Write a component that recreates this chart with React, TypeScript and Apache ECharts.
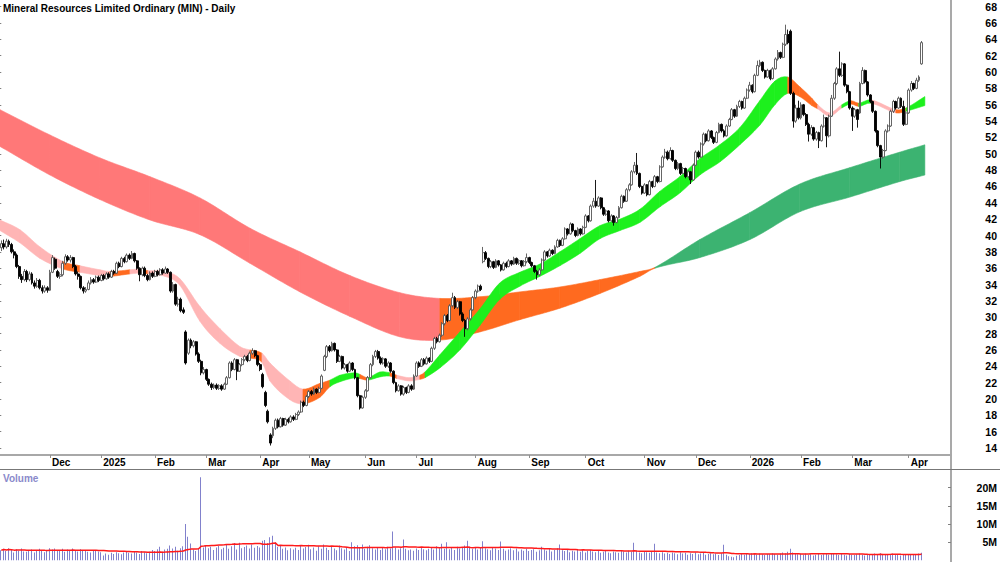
import React, { useEffect, useRef } from "react";
import * as echarts from "echarts";

// ---------- calendar (ASX trading days) ----------
const START_DATE = "2024-11-05";
const HOLIDAYS = [
  "2024-12-25", "2024-12-26", "2025-01-01", "2025-01-27", "2025-04-18", "2025-04-21",
  "2025-04-25", "2025-06-09", "2025-12-25", "2025-12-26", "2026-01-01", "2026-01-26",
  "2026-04-03", "2026-04-06",
];
const PAD_DAYS = 11; // empty space before the price axis
const MONTH_NAMES = ["Jan", "Feb", "Mar", "Apr", "May", "Jun", "Jul", "Aug", "Sep", "Oct", "Nov", "Dec"];

const TITLE = "Mineral Resources Limited Ordinary (MIN) - Daily";

// ---------- daily candles: [open, close, low, high] ----------
const candles: number[][] = [
  [38.5,39.0,38.1,39.4],[39.0,38.6,38.3,39.5],[38.6,39.3,38.4,39.6],[39.3,38.9,38.6,39.5],[38.9,38.0,37.8,39.1],
  [38.0,37.6,37.2,38.3],[37.6,36.2,36.0,37.8],[36.2,35.0,34.7,36.4],[35.0,34.6,34.2,35.3],[34.6,35.6,34.4,35.9],
  [35.6,34.6,34.3,35.8],[34.6,35.3,34.4,35.6],[35.3,34.2,34.0,35.5],[34.2,33.8,33.5,34.5],[33.8,34.5,33.6,34.8],
  [34.5,33.6,33.4,34.7],[33.6,33.2,32.9,33.9],[33.2,33.6,33.0,33.9],[33.6,33.3,33.0,33.8],[33.3,35.5,33.2,35.8],
  [35.5,37.3,35.4,37.6],[37.1,36.0,35.8,37.3],[35.6,35.0,34.8,35.8],[35.0,35.2,34.7,35.5],[35.2,36.6,35.0,36.9],
  [36.6,37.4,36.4,37.7],[37.4,37.0,36.8,37.6],[37.0,37.3,36.7,37.6],[37.3,36.2,36.0,37.4],[36.2,35.3,35.1,36.4],
  [35.3,35.0,34.6,35.6],[35.0,33.6,33.4,35.1],[33.6,33.2,32.9,33.8],[33.2,33.4,33.0,33.7],[33.4,34.2,33.3,34.5],
  [34.2,34.6,34.0,34.9],[34.6,34.3,34.1,34.8],[34.3,34.9,34.2,35.1],[34.9,34.5,34.3,35.1],[34.5,35.1,34.4,35.3],
  [35.1,34.7,34.5,35.3],[34.7,35.3,34.6,35.5],[35.3,34.9,34.7,35.5],[34.9,35.6,34.8,35.8],[35.6,35.4,35.2,35.8],
  [35.4,36.6,35.3,36.8],[36.6,36.2,36.0,36.8],[36.2,37.2,36.1,37.4],[37.2,36.8,36.6,37.4],[36.8,37.6,36.7,37.8],
  [37.6,37.2,37.0,37.8],[37.2,37.8,37.1,38.1],[37.8,36.9,36.7,37.9],[36.9,36.0,35.8,37.0],[36.0,35.2,34.4,36.1],
  [35.2,36.0,35.0,36.2],[36.0,35.1,34.9,36.2],[35.1,34.6,34.4,35.3],[34.6,35.4,34.5,35.6],[35.4,35.0,34.8,35.6],
  [35.0,35.6,34.9,35.8],[35.6,35.2,35.0,35.8],[35.2,35.8,35.1,36.0],[35.8,35.4,35.2,36.0],[35.4,35.9,35.3,36.2],
  [35.9,35.5,35.3,36.0],[35.5,33.2,33.0,35.6],[33.2,34.0,33.0,34.3],[34.0,31.6,31.4,34.1],[31.6,32.2,31.3,32.5],
  [32.2,30.8,30.6,32.4],[30.9,30.6,30.4,31.2],[28.2,24.4,24.2,28.4],[25.6,27.2,25.4,27.4],[27.2,26.5,26.2,27.4],
  [26.5,27.0,26.3,27.2],[27.0,25.5,25.3,27.1],[25.5,24.6,24.4,25.7],[24.6,23.2,22.9,24.8],[23.2,23.6,23.0,23.9],
  [23.6,22.4,22.2,23.7],[22.4,21.8,21.6,22.5],[21.8,21.4,21.1,22.0],[21.4,21.7,21.2,21.9],[21.7,21.3,21.1,21.9],
  [21.3,21.6,21.1,21.8],[21.6,21.2,21.0,21.8],[21.2,21.8,21.1,22.0],[21.8,22.6,21.7,22.8],[22.6,24.4,22.5,24.6],
  [24.4,23.6,23.4,24.6],[23.6,24.8,23.5,25.0],[24.8,23.4,22.3,24.9],[23.4,24.2,23.3,24.4],[24.2,24.8,24.0,25.0],
  [24.8,25.2,24.6,25.4],[25.2,24.7,24.5,25.4],[24.7,25.6,24.6,25.8],[25.6,25.9,25.4,26.2],[25.9,25.3,25.1,26.0],
  [25.3,24.2,24.0,25.4],[24.2,23.6,23.4,24.4],[23.0,21.5,21.3,23.2],[20.8,19.2,19.0,21.0],[18.5,17.2,17.0,18.7],
  [15.6,14.6,14.3,15.8],[15.5,16.4,15.2,16.6],[16.4,17.4,16.2,17.6],[17.4,16.6,16.4,17.6],[16.6,17.6,16.5,17.8],
  [17.6,16.8,16.6,17.7],[16.8,17.5,16.7,17.7],[17.5,17.2,17.0,17.7],[17.2,17.8,17.1,18.0],[17.8,17.5,17.3,18.0],
  [17.5,18.1,17.4,18.3],[18.1,18.4,17.9,18.6],[18.4,19.6,18.3,19.8],[19.6,19.2,19.0,19.8],[19.2,20.3,19.1,20.5],
  [20.3,20.9,20.1,21.1],[20.9,20.6,20.4,21.1],[20.6,21.2,20.5,21.4],[21.2,20.8,20.6,21.3],[20.8,21.3,20.7,21.5],
  [21.3,22.8,21.2,23.0],[23.5,25.2,23.4,25.4],[25.2,26.4,25.0,26.6],[26.4,25.9,25.7,26.6],[25.9,26.8,25.8,27.0],
  [26.8,26.0,25.8,26.9],[26.0,24.6,24.4,26.1],[24.6,25.2,24.5,25.4],[25.2,23.8,23.6,25.3],[23.8,24.2,23.6,24.4],
  [24.2,23.4,23.2,24.3],[23.4,24.4,23.3,24.6],[24.4,23.6,23.4,24.5],[23.6,22.6,22.4,23.7],[22.6,20.4,20.2,22.7],
  [20.4,18.9,18.7,20.5],[18.9,20.2,18.8,20.4],[20.2,21.0,20.0,21.2],[21.0,22.6,20.9,22.8],[22.6,24.2,22.5,24.4],
  [24.2,25.2,24.0,25.4],[25.2,25.8,25.0,26.0],[25.8,25.0,24.8,26.0],[25.0,24.4,24.2,25.2],[24.4,24.9,24.2,25.1],
  [24.9,24.0,23.8,25.0],[24.0,24.4,23.8,24.6],[24.4,23.4,23.2,24.5],[23.4,22.0,21.8,23.5],[22.0,21.0,20.8,22.1],
  [21.0,21.6,20.9,21.8],[21.6,20.6,20.4,21.7],[20.6,21.4,20.4,21.6],[21.4,20.8,20.6,21.5],[20.8,21.6,20.7,21.8],
  [21.6,21.2,21.0,21.8],[21.2,22.8,21.1,23.0],[22.8,24.4,22.7,24.6],[24.4,24.0,23.8,24.6],[24.0,24.8,23.9,25.0],
  [24.8,24.3,24.1,25.0],[24.3,25.0,24.2,25.2],[25.0,24.6,24.4,25.1],[24.6,26.2,24.5,26.4],[26.2,27.4,26.0,27.6],
  [27.4,27.0,26.8,27.6],[27.0,27.8,26.9,28.0],[27.8,29.2,27.6,29.4],[29.2,30.2,29.0,30.4],[30.2,29.6,29.4,30.4],
  [29.6,31.4,29.5,31.6],[31.4,32.4,31.2,33.0],[32.4,31.2,31.0,32.6],[31.2,31.9,31.0,32.1],[31.9,30.4,30.2,32.0],
  [30.4,29.6,29.4,30.6],[29.6,28.6,27.6,29.8],[28.6,29.8,28.4,30.0],[29.8,30.9,29.6,31.1],[30.9,32.4,30.8,32.6],
  [32.4,33.2,32.2,33.4],[33.2,33.8,33.0,34.0],[33.8,33.4,33.2,34.0],[36.8,37.9,36.6,38.6],[37.9,37.2,37.0,38.1],
  [37.2,36.2,36.0,37.3],[36.2,36.8,36.0,37.0],[36.8,36.1,35.9,36.9],[36.1,36.9,36.0,37.1],[36.9,36.4,36.2,37.0],
  [36.4,35.8,35.6,36.5],[35.8,36.6,35.7,36.8],[36.6,36.2,36.0,36.8],[36.2,36.9,36.1,37.1],[36.9,36.5,36.3,37.0],
  [36.5,37.2,36.4,37.4],[37.2,36.6,36.4,37.3],[36.6,36.9,36.4,37.1],[36.9,36.3,36.1,37.0],[36.3,36.8,36.2,37.0],
  [36.8,37.3,36.6,37.8],[37.3,36.7,36.5,37.4],[36.7,36.3,36.1,36.8],[36.3,35.6,35.4,36.4],[35.6,35.2,34.6,35.8],
  [35.2,35.8,35.0,36.0],[35.8,37.0,35.7,37.2],[37.0,38.0,36.9,38.2],[38.0,37.5,37.3,38.1],[37.5,38.2,37.4,38.4],
  [38.2,37.8,37.6,38.3],[37.8,38.6,37.7,38.8],[38.6,39.4,38.5,39.6],[39.4,38.8,38.6,39.5],[38.8,39.6,38.7,39.8],
  [39.6,40.8,39.5,41.0],[40.8,40.2,40.0,40.9],[40.2,41.4,40.1,41.6],[41.4,40.6,40.4,41.5],[40.6,40.0,39.8,40.7],
  [40.0,40.8,39.9,41.0],[40.8,40.2,40.0,40.9],[40.2,41.0,40.1,41.2],[41.0,42.4,40.9,42.6],[42.4,41.8,41.6,42.5],
  [41.8,43.6,41.7,43.8],[43.6,44.2,43.4,44.6],[44.2,43.6,43.4,46.8],[43.6,44.6,43.5,44.8],[44.6,43.4,43.2,44.7],
  [43.4,42.6,42.4,43.5],[42.6,43.0,42.4,43.2],[43.0,41.8,41.6,43.1],[41.8,42.4,41.7,42.6],[42.4,41.6,41.2,42.5],
  [41.6,42.2,41.5,42.4],[42.2,43.4,42.1,43.6],[43.4,44.8,43.3,45.0],[44.8,44.2,44.0,44.9],[44.2,45.6,44.1,45.8],
  [45.6,46.2,45.4,46.4],[46.2,47.8,46.1,48.0],[47.8,48.6,47.6,49.0],[48.6,47.6,47.4,50.1],[47.6,46.0,45.8,47.7],
  [46.0,45.2,45.0,46.1],[45.2,46.2,45.1,46.4],[46.2,45.0,44.8,46.3],[45.0,46.6,44.9,46.8],[46.6,46.0,45.8,46.7],
  [46.0,47.2,45.9,47.4],[47.2,46.6,46.4,47.3],[46.6,48.4,46.5,48.6],[48.4,49.6,48.3,49.8],[49.6,50.2,49.4,50.6],
  [50.2,49.4,49.2,50.4],[49.4,50.4,49.3,50.8],[50.4,49.2,49.0,50.5],[49.2,48.2,48.0,49.3],[48.2,48.8,48.0,49.0],
  [48.8,47.6,47.4,48.9],[47.6,48.2,47.5,48.4],[48.2,47.2,47.0,48.3],[47.2,47.8,47.0,48.0],[47.8,46.8,46.3,47.9],
  [46.8,48.6,46.7,48.8],[48.6,50.2,48.5,50.4],[50.2,49.6,49.4,50.4],[49.6,51.2,49.5,51.4],[51.2,52.4,51.0,52.6],
  [52.4,51.6,51.4,52.5],[51.6,52.8,51.5,53.0],[52.8,52.0,51.8,52.9],[52.0,51.4,51.2,52.1],[51.4,52.6,51.3,52.8],
  [52.6,53.6,52.5,53.8],[53.6,52.8,52.6,53.7],[52.8,52.2,52.0,53.0],[52.2,53.4,52.1,53.6],[53.4,54.2,53.3,54.4],
  [54.2,55.4,54.1,55.6],[55.4,54.6,54.4,55.5],[54.6,55.8,54.5,56.0],[55.8,56.4,55.6,56.6],[56.4,55.6,55.4,56.5],
  [55.6,56.8,55.5,57.0],[56.8,57.8,56.7,58.0],[57.8,58.4,57.6,58.8],[58.4,57.6,57.4,58.5],[57.6,59.6,57.5,59.8],
  [59.6,60.8,59.5,61.4],[60.8,61.2,60.6,61.5],[61.2,60.2,60.0,61.3],[60.2,59.4,59.2,60.3],[59.4,60.2,59.3,60.4],
  [60.2,59.2,59.0,60.3],[59.2,60.4,59.1,60.6],[60.4,61.6,60.3,61.8],[61.6,62.4,61.4,62.7],[62.4,61.8,61.6,62.5],
  [61.8,63.4,61.7,63.6],[63.4,64.6,63.2,65.8],[64.6,63.6,63.4,65.2],[65.0,57.4,57.2,65.2],[57.4,54.0,53.2,57.6],
  [54.0,55.6,53.8,56.0],[55.6,54.4,54.2,56.5],[54.4,56.0,54.2,56.3],[56.0,54.8,54.6,56.1],[54.8,53.6,53.4,55.0],
  [53.6,52.4,51.5,53.8],[52.4,53.2,52.2,53.5],[53.2,51.8,51.6,53.3],[51.8,52.6,51.6,52.8],[52.6,51.6,50.7,52.7],
  [51.6,53.4,51.5,53.6],[53.4,54.4,53.2,54.8],[54.4,52.2,50.8,54.5],[52.2,54.6,52.0,54.8],[54.6,56.8,54.5,57.2],
  [56.8,58.6,56.6,58.8],[58.6,60.4,58.4,60.6],[60.4,59.6,59.4,62.5],[59.6,61.0,59.4,61.2],[61.0,58.4,58.2,61.1],
  [58.4,57.6,57.4,58.5],[57.6,55.6,55.4,57.7],[55.6,54.6,52.8,55.8],[54.6,55.4,54.4,55.6],[55.4,54.2,53.2,55.5],
  [55.0,58.6,54.9,58.8],[58.6,60.2,58.5,60.6],[60.2,58.8,58.6,60.3],[58.8,57.2,57.0,58.9],[57.2,56.4,56.2,57.3],
  [56.4,55.2,55.0,56.5],[55.2,52.8,52.6,55.3],[52.8,51.0,50.8,52.9],[51.0,49.6,48.2,51.1],[49.6,50.4,49.4,50.6],
  [50.4,52.8,50.3,53.0],[52.8,53.4,52.6,53.6],[53.4,55.2,53.3,55.4],[55.2,56.4,55.0,56.6],[56.4,55.6,55.4,56.5],
  [55.6,56.8,55.5,57.0],[56.8,55.8,55.6,56.9],[55.8,53.6,53.4,56.5],[53.6,55.0,53.5,55.2],[55.0,57.8,54.9,58.0],
  [57.8,58.6,57.6,58.9],[58.6,58.0,57.8,58.7],[58.0,59.0,57.9,59.3],[59.0,59.4,58.8,59.6],[61.0,63.6,60.9,63.8],
];

// ---------- daily volume (millions) ----------
const volumes: number[] = [
  2.8,3.2,2.6,3.4,2.9,2.2,3.1,2.7,3.3,2.5,2.4,2.9,3.0,2.2,2.6,3.2,2.8,2.3,2.7,3.4,
  3.0,3.3,2.6,2.9,3.2,2.4,3.0,2.8,3.3,2.7,2.5,3.1,2.6,2.9,2.4,2.2,2.8,2.6,2.5,2.3,
  1.4,1.9,1.6,2.1,1.8,2.3,2.0,1.7,2.2,2.4,2.1,1.9,2.5,2.2,1.8,2.6,2.3,2.0,2.4,2.9,
  2.6,3.1,3.8,2.4,3.0,3.2,4.1,3.3,3.8,2.7,3.4,3.9,10.0,6.5,4.7,3.0,2.6,3.3,22.9,3.6,
  4.2,3.4,3.8,2.9,3.6,4.0,3.1,3.5,4.5,3.2,3.9,4.8,3.0,4.9,3.4,3.7,4.1,3.3,4.4,3.5,
  4.0,3.6,5.4,5.6,4.8,6.4,6.8,5.0,3.8,4.2,3.2,3.6,2.8,3.4,3.0,3.5,2.9,4.1,3.3,3.7,
  4.3,3.1,3.6,2.7,3.9,3.2,4.4,3.5,2.9,3.8,3.3,2.8,4.1,3.4,3.0,3.7,2.6,5.0,3.9,4.2,
  3.6,4.4,3.2,3.8,4.2,3.4,3.0,3.7,2.9,3.5,3.1,3.8,3.3,8.0,3.6,3.0,3.4,5.8,3.2,2.8,
  3.0,2.7,3.3,2.9,3.5,3.1,2.8,3.2,3.6,3.0,3.9,3.4,4.6,3.2,5.0,3.1,3.5,2.9,3.8,3.3,
  3.6,4.1,5.4,3.8,3.2,3.5,3.0,3.7,5.3,3.4,3.1,2.8,3.6,3.3,2.9,5.2,3.2,2.7,3.0,3.4,
  2.8,3.3,2.5,3.0,2.7,3.2,2.6,2.9,3.1,2.4,2.8,3.8,3.0,2.7,3.2,2.5,2.9,3.4,4.4,2.8,
  2.6,2.9,2.3,2.7,2.5,3.0,2.4,2.8,2.2,2.6,2.9,2.5,2.3,2.7,2.1,2.4,2.6,2.2,2.0,2.5,
  2.3,2.1,2.9,2.5,2.2,2.7,2.4,4.9,2.6,2.2,2.0,2.5,2.3,2.1,2.4,4.6,2.2,2.0,2.3,1.9,
  2.1,1.8,2.2,2.0,1.7,2.3,1.9,2.1,1.6,2.0,1.8,2.2,1.7,1.9,2.1,1.6,1.8,2.0,1.7,1.9,
  1.5,2.0,4.3,1.6,1.2,1.0,0.9,1.3,1.5,1.8,1.6,1.9,1.7,2.0,1.8,1.6,1.9,1.7,1.5,1.8,
  1.7,2.0,1.8,1.6,1.9,2.2,2.0,2.4,3.2,2.2,1.9,1.7,1.8,1.6,1.9,1.5,1.7,1.4,1.6,1.8,
  1.5,1.7,1.9,1.6,1.8,2.0,1.7,1.5,1.9,1.6,1.4,1.8,1.6,1.5,1.7,1.9,1.6,1.4,1.8,1.5,
  1.7,1.9,1.6,2.0,1.8,1.5,1.7,1.6,1.9,1.5,1.7,1.4,1.8,1.6,1.5,1.7,1.6,1.8,1.9,2.1,
];
const VOL_MA_DAYS = 30;

// ---------- slow (long-term) MA ribbon: keyframes by bar index ----------
// colour codes: 0 red, 1 orange, 2 dark green, 3 pink, 4 lime
const slowIdx = [-0.5, 19, 38.5, 58, 77.5, 97, 116.5, 136, 155.5, 171.1, 186.7, 202.3, 217.9, 233.5, 249.1, 255, 272.5, 292, 311.5, 331, 350.5, 360.3];
const slowLo = [50.9, 47.4, 44.4, 41.9, 40.1, 36.6, 33.1, 30.1, 27.6, 27.2, 28.2, 29.7, 31.1, 32.9, 35.0, 36.0, 37.3, 39.5, 42.9, 44.7, 46.6, 47.4];
const slowHi = [55.4, 52.3, 49.5, 47.2, 44.6, 40.9, 38.0, 35.1, 33.0, 32.3, 32.5, 33.1, 33.7, 34.6, 35.6, 36.1, 39.5, 42.8, 46.3, 48.3, 50.2, 51.1];
const slowCol = [0, 0, 0, 0, 0, 0, 0, 0, 0, 1, 1, 1, 1, 1, 1, 2, 2, 2, 2, 2, 2, 2];

// ---------- fast (short-term) MA ribbon ----------
const fastIdx = [-0.5, 7.3, 15.1, 24.1, 30.7, 38.5, 42.4, 50.2, 54.1, 57.2, 63.9, 69.7, 77.5, 85.3, 93.1, 97, 101.7, 104.8, 112.6, 117.7, 124.3, 128.2, 132.1, 138, 139.9, 143, 147.7, 151.6, 154.3, 159.4, 163.3, 165.3, 171.1, 178.9, 186.7, 194.5, 202.3, 210.1, 217.9, 225.7, 233.5, 241.3, 249.1, 256.9, 264.7, 272.5, 280.3, 288.1, 295.9, 301.8, 306.8, 311.5, 316.2, 318.5, 323.2, 327.9, 331.4, 334.5, 339.2, 349, 352.9, 360.3];
const fastLo = [40.6, 39.1, 37.2, 35.9, 35.5, 35.1, 35.0, 35.3, 35.4, 35.3, 35.0, 33.9, 29.5, 26.8, 25.2, 25.0, 24.5, 22.2, 19.9, 19.4, 20.2, 21.5, 22.1, 22.6, 22.5, 22.3, 22.7, 22.8, 22.5, 22.2, 22.4, 22.6, 23.8, 26.0, 29.0, 32.2, 33.8, 35.0, 36.3, 37.8, 39.6, 40.6, 41.6, 43.5, 45.2, 47.4, 49.0, 51.1, 53.5, 56.0, 57.4, 57.0, 55.9, 55.5, 54.6, 55.6, 56.1, 55.8, 56.2, 55.0, 55.2, 55.9];
const fastHi = [41.9, 40.7, 38.6, 36.8, 36.3, 35.8, 35.6, 35.8, 35.9, 35.7, 35.6, 34.7, 31.3, 28.6, 26.4, 26.0, 25.6, 24.4, 22.2, 21.2, 21.9, 22.3, 22.9, 23.2, 23.0, 22.6, 23.3, 23.2, 22.9, 22.6, 22.9, 23.3, 25.4, 28.2, 31.0, 34.2, 35.5, 36.5, 38.0, 39.6, 41.2, 42.0, 43.2, 45.4, 47.2, 49.4, 51.1, 53.2, 56.5, 58.9, 59.4, 58.2, 56.8, 56.0, 55.0, 56.0, 56.5, 56.2, 56.6, 55.4, 55.6, 57.0];
const fastCol = [3, 3, 3, 1, 3, 3, 1, 3, 1, 3, 3, 3, 3, 3, 3, 1, 3, 3, 3, 1, 1, 4, 4, 4, 1, 4, 4, 1, 3, 3, 1, 4, 4, 4, 4, 4, 4, 4, 4, 4, 4, 4, 4, 4, 4, 4, 4, 4, 4, 4, 1, 1, 1, 3, 3, 4, 1, 4, 3, 1, 4, 4];

const PALETTE = ["#ff7878", "#ff6a1f", "#3cb371", "#ffb5b5", "#1df01d"];

// ---------- axes ----------
const priceTicks = [14, 16, 18, 20, 22, 24, 26, 28, 30, 32, 34, 36, 38, 40, 42, 44, 46, 48, 50, 52, 54, 56, 58, 60, 62, 64, 66, 68];
const volTicks = [5, 10, 15, 20];
const PRICE_MIN = 13.14;
const PRICE_MAX = 68.82;
const VOL_MAX = 25.14;

const FONT = "'Liberation Sans', Arial, Helvetica, sans-serif";

function tradingDays(n: number): string[] {
  const out: string[] = [];
  const d = new Date(START_DATE + "T00:00:00Z");
  while (out.length < n) {
    const dow = d.getUTCDay();
    const s = d.toISOString().slice(0, 10);
    if (dow !== 0 && dow !== 6 && HOLIDAYS.indexOf(s) < 0) out.push(s);
    d.setUTCDate(d.getUTCDate() + 1);
  }
  return out;
}

// each item: previous, current, next and following keyframe (for a smooth edge) + colour
function bandItems(idx: number[], lo: number[], hi: number[], col: number[]) {
  const items: number[][] = [];
  const n = idx.length;
  for (let k = 0; k < n - 1; k++) {
    const p = Math.max(0, k - 1);
    const q = Math.min(n - 1, k + 2);
    items.push([
      idx[p], lo[p], hi[p],
      idx[k], lo[k], hi[k],
      idx[k + 1], lo[k + 1], hi[k + 1],
      idx[q], lo[q], hi[q],
      col[k],
    ]);
  }
  return items;
}

// cubic Hermite edge between keyframes b and c (pixel space), tangents from neighbours
function smoothEdge(a: number[], b: number[], c: number[], d: number[], steps: number) {
  const m1 = a[0] === b[0] ? (c[1] - b[1]) / (c[0] - b[0]) : (c[1] - a[1]) / (c[0] - a[0]);
  const m2 = d[0] === c[0] ? (c[1] - b[1]) / (c[0] - b[0]) : (d[1] - b[1]) / (d[0] - b[0]);
  const dx = c[0] - b[0];
  const pts: number[][] = [];
  for (let s = 0; s <= steps; s++) {
    const t = s / steps;
    const t2 = t * t;
    const t3 = t2 * t;
    const y =
      (2 * t3 - 3 * t2 + 1) * b[1] + (t3 - 2 * t2 + t) * dx * m1 + (-2 * t3 + 3 * t2) * c[1] + (t3 - t2) * dx * m2;
    pts.push([b[0] + dx * t, y]);
  }
  return pts;
}

export default function App() {
  const ref = useRef<HTMLDivElement>(null);

  useEffect(() => {
    if (!ref.current) return;
    const chart = echarts.init(ref.current, undefined, { renderer: "svg" });

    const N = candles.length + PAD_DAYS;
    const dates = tradingDays(N);
    const monthStart = dates.map((d, i) => i > 0 && d.slice(0, 7) !== dates[i - 1].slice(0, 7));
    const volMA = volumes.map((_, i) => {
      const w = volumes.slice(Math.max(0, i - VOL_MA_DAYS + 1), i + 1);
      return w.reduce((a, b) => a + b, 0) / w.length;
    });

    const renderBand = (params: any, api: any) => {
      const v = (k: number) => api.value(k);
      const P = (i: number, y: number) => api.coord([i, y]);
      const top = [P(v(0), v(2)), P(v(3), v(5)), P(v(6), v(8)), P(v(9), v(11))];
      const bot = [P(v(0), v(1)), P(v(3), v(4)), P(v(6), v(7)), P(v(9), v(10))];
      const steps = Math.max(2, Math.round(Math.abs(top[2][0] - top[1][0]) / 3));
      const upper = smoothEdge(top[0], top[1], top[2], top[3], steps);
      const lower = smoothEdge(bot[0], bot[1], bot[2], bot[3], steps).reverse();
      const color = PALETTE[v(12)];
      return {
        type: "polygon",
        shape: { points: upper.concat(lower) },
        style: { fill: color, stroke: color, lineWidth: 0.6 },
      };
    };

    // crisp 1px volume bars
    const renderVolume = (params: any, api: any) => {
      const top = api.coord([api.value(0), api.value(1)]);
      const base = api.coord([api.value(0), 0]);
      const x = Math.round(top[0]) - 1;
      return {
        type: "rect",
        shape: { x, y: top[1], width: 1, height: base[1] - top[1] },
        style: { fill: "#8181cc" },
      };
    };

    const labelStyle = { fontFamily: FONT, fontSize: 10.5, fontWeight: "bold" as const, color: "#000" };
    const bandEncode = { x: [0, 3, 6, 9], y: [1, 2, 4, 5, 7, 8, 10, 11] };

    chart.setOption({
      animation: false,
      backgroundColor: "#ffffff",
      grid: [
        { left: 0, right: 49, top: 0, bottom: 107 },
        { left: 0, right: 49, top: 469, bottom: 1.5 },
      ],
      xAxis: [
        {
          type: "category",
          gridIndex: 0,
          data: dates,
          boundaryGap: true,
          axisLine: { show: true, lineStyle: { color: "#a8a8a8", width: 2 } },
          axisTick: { show: true, alignWithLabel: true, length: 3, lineStyle: { color: "#909090" } },
          axisLabel: {
            ...labelStyle,
            fontSize: 10,
            interval: (i: number) => monthStart[i],
            formatter: (v: string) => {
              const m = Number(v.slice(5, 7)) - 1;
              return m === 0 ? v.slice(0, 4) : MONTH_NAMES[m];
            },
            align: "left",
            margin: 2,
            padding: [0, 0, 0, 2],
          },
          splitLine: { show: false },
        },
        { type: "value", gridIndex: 0, min: -0.5, max: N - 0.5, show: false },
        {
          type: "category",
          gridIndex: 1,
          data: dates,
          boundaryGap: true,
          axisLine: { show: false },
          axisTick: { show: false },
          axisLabel: { show: false },
        },
      ],
      yAxis: [
        {
          type: "value",
          gridIndex: 0,
          position: "right",
          min: PRICE_MIN,
          max: PRICE_MAX,
          axisLine: { show: false },
          axisTick: { show: true, inside: true, length: 3, customValues: priceTicks, lineStyle: { color: "#808080" } },
          axisLabel: { ...labelStyle, customValues: priceTicks, align: "right", margin: 46 },
          splitLine: { show: false },
        },
        {
          type: "value",
          gridIndex: 1,
          position: "right",
          min: 0,
          max: VOL_MAX,
          axisLine: { show: false },
          axisTick: { show: true, inside: true, length: 3, customValues: volTicks, lineStyle: { color: "#808080" } },
          axisLabel: { ...labelStyle, customValues: volTicks, align: "right", margin: 46, formatter: (v: number) => v + "M" },
          splitLine: { show: false },
        },
      ],
      series: [
        {
          type: "custom",
          name: "slow",
          xAxisIndex: 1,
          yAxisIndex: 0,
          renderItem: renderBand,
          encode: bandEncode,
          data: bandItems(slowIdx, slowLo, slowHi, slowCol),
          clip: true,
          silent: true,
          z: 1,
        },
        {
          type: "custom",
          name: "fast",
          xAxisIndex: 1,
          yAxisIndex: 0,
          renderItem: renderBand,
          encode: bandEncode,
          data: bandItems(fastIdx, fastLo, fastHi, fastCol),
          clip: true,
          silent: true,
          z: 2,
        },
        {
          type: "candlestick",
          name: "MIN",
          xAxisIndex: 0,
          yAxisIndex: 0,
          data: candles,
          barWidth: 2.4,
          itemStyle: {
            color: "#ffffff",
            color0: "#000000",
            borderColor: "#555555",
            borderColor0: "#000000",
            borderWidth: 0.9,
          },
          z: 3,
        },
        {
          type: "custom",
          name: "Volume",
          xAxisIndex: 2,
          yAxisIndex: 1,
          renderItem: renderVolume,
          encode: { x: 0, y: 1 },
          data: volumes.map((v, i) => [i, v]),
          clip: true,
          silent: true,
          z: 2,
        },
        {
          type: "line",
          name: "Volume MA",
          xAxisIndex: 2,
          yAxisIndex: 1,
          data: volMA,
          showSymbol: false,
          lineStyle: { color: "#ff1a1a", width: 1.5 },
          z: 3,
        },
      ],
      graphic: [
        {
          type: "text",
          left: 3,
          top: 3,
          style: { text: TITLE, fontFamily: FONT, fontSize: 10, fontWeight: "bold", fill: "#000" },
        },
        {
          type: "text",
          left: 3,
          top: 473,
          style: { text: "Volume", fontFamily: FONT, fontSize: 10, fontWeight: "bold", fill: "#8a8acb" },
        },
        { type: "line", shape: { x1: 951, y1: 0, x2: 951, y2: 562 }, style: { stroke: "#8c8c8c", lineWidth: 1.5 } },
        { type: "line", shape: { x1: 0, y1: 469.5, x2: 1000, y2: 469.5 }, style: { stroke: "#777777", lineWidth: 1 } },
      ],
    });

    return () => chart.dispose();
  }, []);

  return <div ref={ref} style={{ position: "absolute", left: 0, top: 0, width: 1000, height: 562 }} />;
}
